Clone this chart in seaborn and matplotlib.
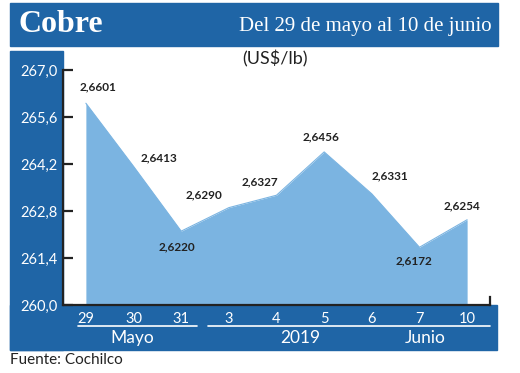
import matplotlib
matplotlib.use("Agg")
import matplotlib.pyplot as plt
import seaborn as sns
import pandas as pd
from matplotlib.patches import Rectangle
from matplotlib.lines import Line2D

days = ["29", "30", "31", "3", "4", "5", "6", "7", "10"]
values = [266.01, 264.13, 262.20, 262.90, 263.27, 264.56, 263.31, 261.72, 262.54]
labels = ["2,6601", "2,6413", "2,6220", "2,6290", "2,6327", "2,6456", "2,6331", "2,6172", "2,6254"]
yticks = [260.0, 261.4, 262.8, 264.2, 265.6, 267.0]
ytick_labels = ["260,0", "261,4", "262,8", "264,2", "265,6", "267,0"]

sns.set_theme(style="white")
plt.rcParams['font.family'] = ['Lato', 'DejaVu Sans']

BLUE = "#1f65a6"
AREA = "#7bb4e1"
DARK = "#222222"

W, H = 520, 373
fig = plt.figure(figsize=(5.2, 3.73), dpi=100)

def fx(px):
    return px / W

def fy(py):
    return 1 - py / H

# background panels
for (x0, y0, w, h) in [(10, 46, 488, 43), (10, 350, 53, 299), (10, 350, 487, 45)]:
    fig.patches.append(Rectangle((fx(x0), fy(y0)), fx(w), h / H, transform=fig.transFigure,
                                 color=BLUE, zorder=-5))

ax = fig.add_axes([fx(63), fy(305), fx(490 - 63), (305 - 70) / H])
ax.set_facecolor("none")
ax.set_zorder(2)

df = pd.DataFrame({"i": range(len(days)), "v": values})
sns.lineplot(data=df, x="i", y="v", ax=ax, color=AREA, linewidth=0.8)
ax.fill_between(df["i"], 260.0, df["v"], color=AREA, linewidth=0)

ax.set_xlim(-0.48, len(days) - 1 + 0.48)
ax.set_ylim(260.0, 267.0)
ax.set_xlabel("")
ax.set_ylabel("")

ax.set_yticks(yticks)
ax.set_yticklabels(ytick_labels)
ax.tick_params(axis="y", direction="in", length=7, width=1.6, color=DARK, left=True,
               labelcolor="white", labelsize=10.5, pad=4)
ax.set_xticks(range(len(days)))
ax.set_xticklabels(days)
ax.tick_params(axis="x", length=0, labelcolor="white", labelsize=10.5, pad=5)

ax.spines["top"].set_visible(False)
for s in ["left", "bottom", "right"]:
    ax.spines[s].set_color(DARK)
    ax.spines[s].set_linewidth(1.6)
ax.spines["right"].set_bounds(260.0, 260.25)

offsets = [(9, 8), (18, 2), (-3, -7), (-18, 5), (-12, 6), (-2, 7), (13, 9), (-4, -6), (-4, 6)]
for i, (v, lab, off) in enumerate(zip(values, labels, offsets)):
    va = "bottom" if off[1] > 0 else "top"
    ax.annotate(lab, (i, v), xytext=off, textcoords="offset points", ha="center", va=va,
                fontsize=8.5, fontweight="bold", color=DARK)

# underline lines in bottom strip
fig.add_artist(Line2D([fx(78), fx(197)], [fy(326), fy(326)], color="white", linewidth=1.2))
fig.add_artist(Line2D([fx(208), fx(490)], [fy(326), fy(326)], color="white", linewidth=1.2))
fig.text(fx(132), fy(338), "Mayo", color="white", fontsize=12.5, ha="center", va="center")
fig.text(fx(300), fy(338), "2019", color="white", fontsize=12.5, ha="center", va="center")
fig.text(fx(425), fy(338), "Junio", color="white", fontsize=12.5, ha="center", va="center")

# titles
fig.text(fx(19), fy(25), "Cobre", color="white", fontsize=23, fontweight="bold",
         family=["Liberation Serif", "DejaVu Serif"], ha="left", va="center")
fig.text(fx(492), fy(27), "Del 29 de mayo al 10 de junio", color="white", fontsize=15,
         family=["Liberation Serif", "DejaVu Serif"], ha="right", va="center")
fig.text(fx(275), fy(59), "(US$/lb)", color=DARK, fontsize=13, ha="center", va="center")
fig.text(fx(10), fy(360), "Fuente: Cochilco", color=DARK, fontsize=11, ha="left", va="center")

fig.savefig("out.png", dpi=100)
